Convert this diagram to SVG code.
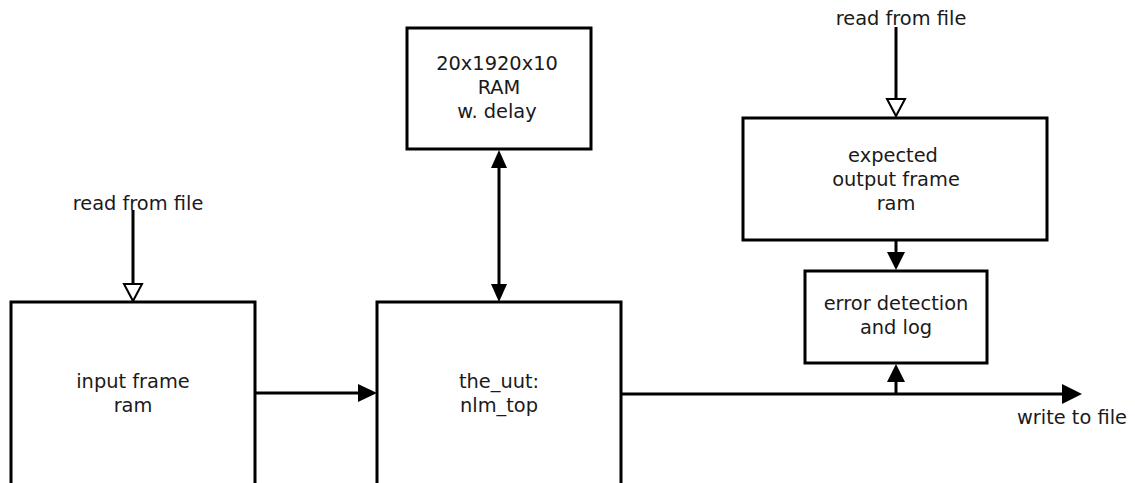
<svg xmlns="http://www.w3.org/2000/svg" width="1135" height="483" viewBox="0 0 1135 483">
<style>
.box{fill:#fff;stroke:#000;stroke-width:3}
.ln{fill:none;stroke:#000;stroke-width:3}
text{font-family:"DejaVu Sans",sans-serif;font-size:19.4px;fill:#1a1a1a;text-anchor:middle}
.open{fill:#fff;stroke:#000;stroke-width:2}
.fill{fill:#000;stroke:none}
</style>
<rect width="1135" height="483" fill="#fff"/>
<g id="input_ram">
<rect class="box" x="11" y="302" width="244" height="200"/>
<text x="133" y="388">input frame</text>
<text x="133" y="412">ram</text>
</g>
<g id="uut">
<rect class="box" x="377" y="302" width="244" height="200"/>
<text x="499" y="388">the_uut:</text>
<text x="499" y="412">nlm_top</text>
</g>
<g id="delay_ram">
<rect class="box" x="407" y="28" width="184" height="121"/>
<text x="497" y="70">20x1920x10</text>
<text x="499" y="94">RAM</text>
<text x="497" y="118">w. delay</text>
</g>
<g id="expected_ram">
<rect class="box" x="743" y="118" width="304" height="122"/>
<text x="893" y="162">expected</text>
<text x="896" y="186">output frame</text>
<text x="896" y="210">ram</text>
</g>
<g id="error_det">
<rect class="box" x="805" y="271" width="182" height="92"/>
<text x="896" y="310">error detection</text>
<text x="896" y="334">and log</text>
</g>
<g id="labels">
<text x="138" y="210">read from file</text>
<text x="901" y="25">read from file</text>
<text x="1072" y="424">write to file</text>
</g>
<g id="connectors">
<line class="ln" x1="133" y1="210" x2="133" y2="285"/>
<polygon class="open" points="124,284 142,284 133,301"/>
<line class="ln" x1="896" y1="27" x2="896" y2="100"/>
<polygon class="open" points="887,99 905,99 896,116"/>
<line class="ln" x1="499" y1="165" x2="499" y2="286"/>
<polygon class="fill" points="499,150 491,168 507,168"/>
<polygon class="fill" points="499,302 491,284 507,284"/>
<line class="ln" x1="256" y1="393" x2="360" y2="393"/>
<polygon class="fill" points="377,393 358,384 358,402"/>
<line class="ln" x1="622" y1="394" x2="1064" y2="394"/>
<polygon class="fill" points="1082,394 1062,384 1062,404"/>
<line class="ln" x1="896" y1="394" x2="896" y2="380"/>
<polygon class="fill" points="896,364 887,382 905,382"/>
<line class="ln" x1="896" y1="241" x2="896" y2="255"/>
<polygon class="fill" points="896,270 887,252 905,252"/>
</g>
</svg>
